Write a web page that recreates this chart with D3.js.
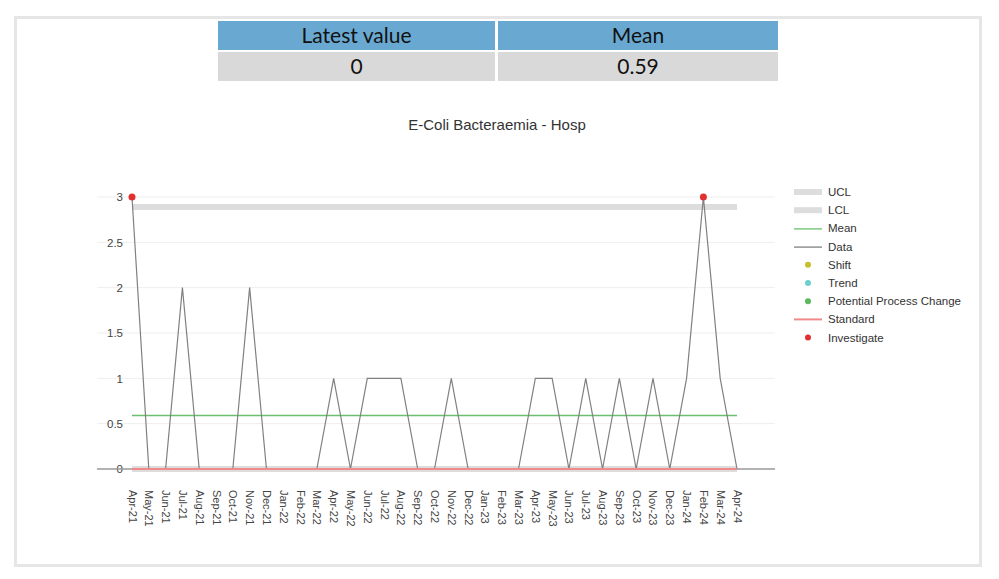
<!DOCTYPE html>
<html>
<head>
<meta charset="utf-8">
<script src="https://cdn.jsdelivr.net/npm/d3@7"></script>
<style>
  html, body { margin: 0; padding: 0; background: #fff; }
  svg { display: block; }
</style>
</head>
<body>
<svg id="chart" width="999" height="579"></svg>
<script>
// ---- Data ----
const months = ["Apr-21","May-21","Jun-21","Jul-21","Aug-21","Sep-21","Oct-21","Nov-21","Dec-21",
  "Jan-22","Feb-22","Mar-22","Apr-22","May-22","Jun-22","Jul-22","Aug-22","Sep-22","Oct-22","Nov-22","Dec-22",
  "Jan-23","Feb-23","Mar-23","Apr-23","May-23","Jun-23","Jul-23","Aug-23","Sep-23","Oct-23","Nov-23","Dec-23",
  "Jan-24","Feb-24","Mar-24","Apr-24"];
const values = [3,0,0,2,0,0,0,2,0,
  0,0,0,1,0,1,1,1,0,0,1,0,
  0,0,0,1,1,0,1,0,1,0,1,0,
  1,3,1,0];
const ucl = 2.89;
const lcl = 0;
const meanValue = 0.59;
const standardValue = 0;
const investigateIdx = [0, 34];
const yTicks = [0, 0.5, 1, 1.5, 2, 2.5, 3];
const tableHeaders = ["Latest value", "Mean"];
const tableValues = ["0", "0.59"];
const legendItems = [
  {label: "UCL", type: "band", color: "#dddddd"},
  {label: "LCL", type: "band", color: "#dddddd"},
  {label: "Mean", type: "line", color: "#6cbf6c"},
  {label: "Data", type: "line", color: "#808080"},
  {label: "Shift", type: "dot", color: "#c8bf2c"},
  {label: "Trend", type: "dot", color: "#6cd0d0"},
  {label: "Potential Process Change", type: "dot", color: "#5cb85c"},
  {label: "Standard", type: "line2", color: "#f08a8a"},
  {label: "Investigate", type: "dot", color: "#e03030"}
];
const title = "E-Coli Bacteraemia - Hosp";

// ---- Drawing ----
const svg = d3.select("#chart");
const font = "'Liberation Sans', Arial, sans-serif";

// outer frame
svg.append("rect").attr("x", 15.5).attr("y", 17.5).attr("width", 965).attr("height", 548)
  .attr("fill", "#fff").attr("stroke", "#e6e6e6").attr("stroke-width", 3);

// table
const colX = [218, 498], colW = [277, 280];
tableHeaders.forEach((h, i) => {
  svg.append("rect").attr("x", colX[i]).attr("y", 21).attr("width", colW[i]).attr("height", 29).attr("fill", "#69a9d1");
  svg.append("rect").attr("x", colX[i]).attr("y", 52).attr("width", colW[i]).attr("height", 29).attr("fill", "#d9d9d9");
  svg.append("text").attr("x", colX[i] + colW[i] / 2).attr("y", 43).attr("text-anchor", "middle")
    .attr("font-family", "Lato, 'Open Sans', sans-serif").attr("font-size", 21).attr("fill", "#111").text(h);
  svg.append("text").attr("x", colX[i] + colW[i] / 2).attr("y", 74).attr("text-anchor", "middle")
    .attr("font-family", "Lato, 'Open Sans', sans-serif").attr("font-size", 21).attr("fill", "#111").text(tableValues[i]);
});

// title
svg.append("text").attr("x", 497).attr("y", 130).attr("text-anchor", "middle")
  .attr("font-family", font).attr("font-size", 15).attr("fill", "#333").text(title);

// scales
const plotLeft = 97, plotRight = 775;
const x = d3.scalePoint().domain(months).range([132, 737]);
const y = d3.scaleLinear().domain([0, 3]).range([469, 197]);

// gridlines
svg.append("g").selectAll("line").data(yTicks.filter(d => d > 0)).join("line")
  .attr("x1", plotLeft).attr("x2", plotRight)
  .attr("y1", d => y(d)).attr("y2", d => y(d))
  .attr("stroke", "#eeeeee").attr("stroke-width", 1);

// y axis labels
const yAxis = d3.axisLeft(y).tickValues(yTicks).tickSize(0).tickPadding(0).tickFormat(d3.format("~g"));
const yg = svg.append("g").attr("transform", `translate(${123},0)`).call(yAxis);
yg.select(".domain").remove();
yg.selectAll("text").attr("font-family", font).attr("font-size", 11.5).attr("fill", "#444");

// zero line (axis)
svg.append("line").attr("x1", plotLeft).attr("x2", plotRight).attr("y1", y(0)).attr("y2", y(0))
  .attr("stroke", "#999").attr("stroke-width", 1.5);

// x axis labels
const xAxis = d3.axisBottom(x).tickSize(0).tickPadding(0);
const xg = svg.append("g").attr("transform", `translate(0,${y(0)})`).call(xAxis);
xg.select(".domain").remove();
xg.selectAll("text")
  .attr("font-family", font).attr("font-size", 11).attr("fill", "#444")
  .attr("text-anchor", "start")
  .attr("dy", null)
  .attr("transform", "translate(-4,21) rotate(90)")
  .attr("x", 0).attr("y", 0);

const x0 = x(months[0]), x1 = x(months[months.length - 1]);

// UCL band
svg.append("line").attr("x1", x0).attr("x2", x1).attr("y1", y(ucl)).attr("y2", y(ucl))
  .attr("stroke", "#dddddd").attr("stroke-width", 6);
// LCL band
svg.append("line").attr("x1", x0).attr("x2", x1).attr("y1", y(lcl)).attr("y2", y(lcl))
  .attr("stroke", "#dddddd").attr("stroke-width", 6);
// Mean
svg.append("line").attr("x1", x0).attr("x2", x1).attr("y1", Math.floor(y(meanValue)) + 0.5).attr("y2", Math.floor(y(meanValue)) + 0.5)
  .attr("stroke", "#6cbf6c").attr("stroke-width", 1.3);

// data line
const line = d3.line().x((d, i) => x(months[i])).y(d => y(d));
svg.append("path").datum(values).attr("d", line)
  .attr("fill", "none").attr("stroke", "#808080").attr("stroke-width", 1.2);

// Standard (drawn over the data at zero)
svg.append("line").attr("x1", x0).attr("x2", x1).attr("y1", y(standardValue)).attr("y2", y(standardValue))
  .attr("stroke", "#f08a8a").attr("stroke-width", 2);

// investigate points
svg.append("g").selectAll("circle").data(investigateIdx).join("circle")
  .attr("cx", i => x(months[i])).attr("cy", i => y(values[i])).attr("r", 3.5)
  .attr("fill", "#e03030");

// legend
const lg = svg.append("g").attr("transform", "translate(794,192)");
legendItems.forEach((it, i) => {
  const gy = i * 18.2;
  const g = lg.append("g").attr("transform", `translate(0,${gy})`);
  if (it.type === "band") {
    g.append("line").attr("x1", 0).attr("x2", 28).attr("y1", 0).attr("y2", 0).attr("stroke", it.color).attr("stroke-width", 6);
  } else if (it.type === "line") {
    g.append("line").attr("x1", 0).attr("x2", 28).attr("y1", 0.5).attr("y2", 0.5).attr("stroke", it.color).attr("stroke-width", 1.3);
  } else if (it.type === "line2") {
    g.append("line").attr("x1", 0).attr("x2", 28).attr("y1", 0).attr("y2", 0).attr("stroke", it.color).attr("stroke-width", 2);
  } else {
    g.append("circle").attr("cx", 14).attr("cy", 0).attr("r", 3).attr("fill", it.color);
  }
  g.append("text").attr("x", 34).attr("y", 4).attr("font-family", font).attr("font-size", 11.5)
    .attr("fill", "#333").text(it.label);
});
</script>
</body>
</html>
